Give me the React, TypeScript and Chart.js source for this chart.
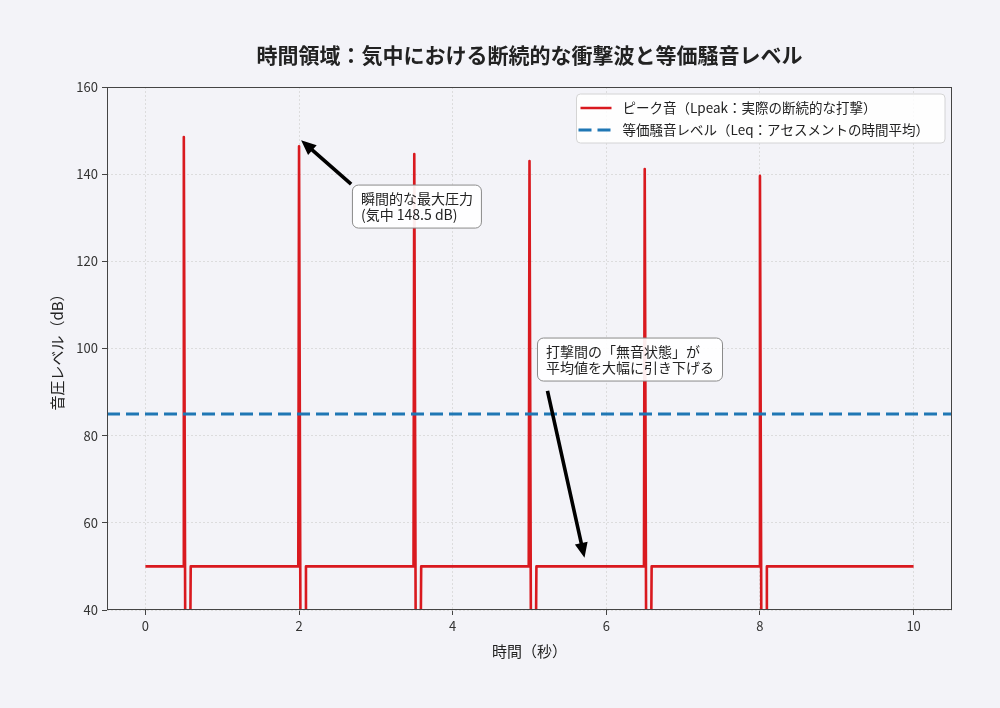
import { useEffect, useRef } from 'react'
import { Chart, registerables } from 'chart.js'
import type { Plugin } from 'chart.js'

Chart.register(...registerables)

const FONT = "'Noto Sans CJK JP', 'Noto Sans', sans-serif"
const PAGE_BG = '#f3f3f8'
const RED = '#d9191f'
const BLUE = '#1f77b4'

const TITLE = '時間領域：気中における断続的な衝撃波と等価騒音レベル'
const X_TITLE = '時間（秒）'
const Y_TITLE = '音圧レベル（dB）'

const X_TICKS = [0, 2, 4, 6, 8, 10]
const Y_TICKS = [40, 60, 80, 100, 120, 140, 160]

const LPEAK_LABEL = 'ピーク音（Lpeak：実際の断続的な打撃）'
const LEQ_LABEL = '等価騒音レベル（Leq：アセスメントの時間平均）'

// peak trace, only where it changes (spike, then the dip below the axis)
const LPEAK_TIME = [
  0,
  0.49, 0.5, 0.52, 0.58, 0.59,
  1.99, 2.0, 2.02, 2.08, 2.09,
  3.49, 3.5, 3.52, 3.58, 3.59,
  4.99, 5.0, 5.02, 5.08, 5.09,
  6.49, 6.5, 6.52, 6.58, 6.59,
  7.99, 8.0, 8.02, 8.08, 8.09,
  10,
]
const LPEAK_DB = [
  50,
  50, 148.5, 25, 25, 50,
  50, 146.4, 25, 25, 50,
  50, 144.6, 25, 25, 50,
  50, 143.0, 25, 25, 50,
  50, 141.2, 25, 25, 50,
  50, 139.6, 25, 25, 50,
  50,
]

const LEQ_TIME = [-0.5, 10.5]
const LEQ_DB = [85, 85]

// annotations, in data units
const NOTES = [
  {
    lines: ['瞬間的な最大圧力', '(気中 148.5 dB)'],
    box: [2.695, 137.5],
    from: [2.678, 137.7],
    to: [2.027, 147.8],
  },
  {
    lines: ['打撃間の「無音状態」が', '平均値を大幅に引き下げる'],
    box: [5.104, 102.4],
    from: [5.234, 90.3],
    to: [5.716, 52.0],
  },
]

function roundRect(ctx: CanvasRenderingContext2D, x: number, y: number, w: number, h: number, r: number) {
  ctx.beginPath()
  ctx.moveTo(x + r, y)
  ctx.lineTo(x + w - r, y)
  ctx.arcTo(x + w, y, x + w, y + r, r)
  ctx.lineTo(x + w, y + h - r)
  ctx.arcTo(x + w, y + h, x + w - r, y + h, r)
  ctx.lineTo(x + r, y + h)
  ctx.arcTo(x, y + h, x, y + h - r, r)
  ctx.lineTo(x, y + r)
  ctx.arcTo(x, y, x + r, y, r)
  ctx.closePath()
}

function arrow(ctx: CanvasRenderingContext2D, x1: number, y1: number, x2: number, y2: number) {
  const ang = Math.atan2(y2 - y1, x2 - x1)
  const len = Math.hypot(x2 - x1, y2 - y1)
  const headL = 15
  const headW = 13
  const shaft = 3.6
  ctx.save()
  ctx.translate(x1, y1)
  ctx.rotate(ang)
  ctx.beginPath()
  ctx.moveTo(0, -shaft / 2)
  ctx.lineTo(len - headL, -shaft / 2)
  ctx.lineTo(len - headL, -headW / 2)
  ctx.lineTo(len, 0)
  ctx.lineTo(len - headL, headW / 2)
  ctx.lineTo(len - headL, shaft / 2)
  ctx.lineTo(0, shaft / 2)
  ctx.closePath()
  ctx.fillStyle = '#000'
  ctx.fill()
  ctx.restore()
}

const frame: Plugin<'line'> = {
  id: 'frame',
  afterDatasetsDraw(chart) {
    const { ctx, chartArea: a } = chart
    ctx.save()
    ctx.strokeStyle = '#444'
    ctx.lineWidth = 1
    ctx.strokeRect(a.left + 0.5, a.top + 0.5, a.width - 1, a.height - 1)
    ctx.restore()
  },
}

const overlay: Plugin<'line'> = {
  id: 'overlay',
  afterDraw(chart) {
    const { ctx, chartArea: a } = chart
    const xs = chart.scales.x
    const ys = chart.scales.y
    ctx.save()

    // title, centred over the plot like matplotlib's
    ctx.font = `bold 21px ${FONT}`
    ctx.fillStyle = '#222'
    ctx.textAlign = 'center'
    ctx.textBaseline = 'middle'
    ctx.fillText(TITLE, (a.left + a.right) / 2, 55.5)
    ctx.textAlign = 'left'

    // annotations
    ctx.font = `14px ${FONT}`
    for (const n of NOTES) {
      arrow(
        ctx,
        xs.getPixelForValue(n.from[0]),
        ys.getPixelForValue(n.from[1]),
        xs.getPixelForValue(n.to[0]),
        ys.getPixelForValue(n.to[1]),
      )
      const bx = xs.getPixelForValue(n.box[0])
      const by = ys.getPixelForValue(n.box[1])
      const w = Math.max(...n.lines.map((l) => ctx.measureText(l).width)) + 17
      const lh = 15.5
      const h = n.lines.length * lh + 12
      roundRect(ctx, bx, by, w, h, 6)
      ctx.fillStyle = 'rgba(255,255,255,0.92)'
      ctx.fill()
      ctx.strokeStyle = '#8a8a8a'
      ctx.lineWidth = 1
      ctx.stroke()
      ctx.fillStyle = '#222'
      n.lines.forEach((l, i) => ctx.fillText(l, bx + 8.5, by + 6 + lh / 2 + i * lh))
    }

    // legend
    ctx.font = `13.5px ${FONT}`
    const labels = [LPEAK_LABEL, LEQ_LABEL]
    const tw = Math.max(...labels.map((l) => ctx.measureText(l).width))
    const right = a.right - 7
    const top = a.top + 7
    const lw = tw + 62
    const left = right - lw
    roundRect(ctx, left, top, lw, 49, 4)
    ctx.fillStyle = 'rgba(255,255,255,0.85)'
    ctx.fill()
    ctx.strokeStyle = '#d4d4d4'
    ctx.lineWidth = 1
    ctx.stroke()

    const rows = [top + 14, top + 36]
    ctx.lineWidth = 2.5
    ctx.strokeStyle = RED
    ctx.beginPath()
    ctx.moveTo(left + 4, rows[0])
    ctx.lineTo(left + 35, rows[0])
    ctx.stroke()
    ctx.lineWidth = 3
    ctx.strokeStyle = BLUE
    ctx.setLineDash([13, 6])
    ctx.beginPath()
    ctx.moveTo(left + 2, rows[1])
    ctx.lineTo(left + 35, rows[1])
    ctx.stroke()
    ctx.setLineDash([])
    ctx.fillStyle = '#222'
    labels.forEach((l, i) => ctx.fillText(l, left + 46, rows[i]))

    ctx.restore()
  },
}

export default function App() {
  const canvasRef = useRef<HTMLCanvasElement>(null)
  const chartRef = useRef<Chart<'line'> | null>(null)

  useEffect(() => {
    document.body.style.margin = '0'
    document.body.style.background = PAGE_BG
    const canvas = canvasRef.current
    if (!canvas) return
    chartRef.current?.destroy()

    const tickFont = { family: FONT, size: 13 }
    const titleFont = { family: FONT, size: 15 }

    chartRef.current = new Chart(canvas, {
      type: 'line',
      data: {
        datasets: [
          {
            label: LEQ_LABEL,
            data: LEQ_TIME.map((x, i) => ({ x, y: LEQ_DB[i] })),
            borderColor: BLUE,
            borderWidth: 3,
            borderDash: [13, 6],
            pointRadius: 0,
            order: 0,
            clip: 0,
          },
          {
            label: LPEAK_LABEL,
            data: LPEAK_TIME.map((x, i) => ({ x, y: LPEAK_DB[i] })),
            borderColor: RED,
            borderWidth: 2.6,
            borderJoinStyle: 'round',
            pointRadius: 0,
            tension: 0,
            order: 1,
            clip: 0,
          },
        ],
      },
      options: {
        responsive: false,
        animation: false,
        events: [],
        layout: { padding: { top: 87, left: 0, right: 48, bottom: 0 } },
        scales: {
          x: {
            type: 'linear',
            min: -0.5,
            max: 10.5,
            afterBuildTicks: (s) => {
              s.ticks = X_TICKS.map((value) => ({ value }))
            },
            afterFit: (s) => {
              s.height = 98
            },
            ticks: { color: '#333', font: tickFont, padding: 3, maxRotation: 0, callback: (v) => String(v) },
            grid: { color: '#d6d6d6', lineWidth: 0.8, tickColor: '#444', tickLength: 5, tickWidth: 1 },
            border: { display: false, dash: [2, 2] },
            title: { display: true, text: X_TITLE, color: '#222', font: titleFont, padding: { top: 0, bottom: 48 } },
          },
          y: {
            min: 40,
            max: 160,
            afterBuildTicks: (s) => {
              s.ticks = Y_TICKS.map((value) => ({ value }))
            },
            afterFit: (s) => {
              s.width = 107
            },
            ticks: { color: '#333', font: tickFont, padding: 4, callback: (v) => String(v) },
            grid: { color: '#d6d6d6', lineWidth: 0.8, tickColor: '#444', tickLength: 5, tickWidth: 1 },
            border: { display: false, dash: [2, 2] },
            title: { display: true, text: Y_TITLE, color: '#222', font: titleFont, padding: { top: 48, bottom: 0 } },
          },
        },
        plugins: {
          legend: { display: false },
          tooltip: { enabled: false },
          title: { display: false },
        },
      },
      plugins: [frame, overlay],
    })

    return () => {
      chartRef.current?.destroy()
      chartRef.current = null
    }
  }, [])

  return (
    <div style={{ width: 1000, height: 708, background: PAGE_BG }}>
      <canvas ref={canvasRef} width={1000} height={708} style={{ display: 'block' }} />
    </div>
  )
}
